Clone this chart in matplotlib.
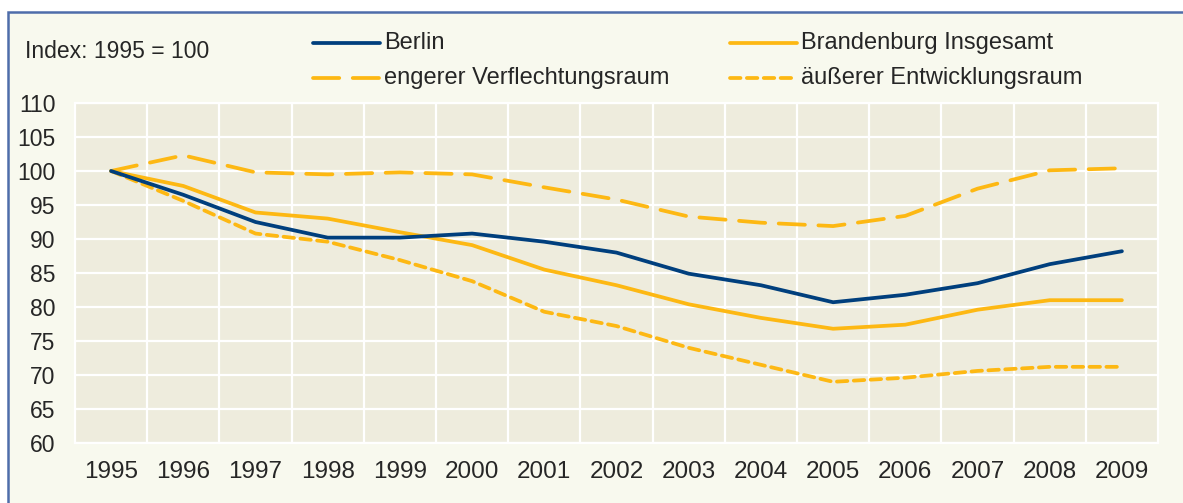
import matplotlib
matplotlib.use("Agg")
import matplotlib.pyplot as plt
from matplotlib.lines import Line2D
from matplotlib.patches import Rectangle

plt.rcParams['font.family'] = ['Liberation Sans', 'DejaVu Sans']

years = ['1995', '1996', '1997', '1998', '1999', '2000', '2001', '2002',
         '2003', '2004', '2005', '2006', '2007', '2008', '2009']
berlin = [100, 96.5, 92.5, 90.2, 90.2, 90.8, 89.6, 88.0, 84.9, 83.2, 80.7, 81.8, 83.5, 86.3, 88.2]
brandenburg = [100, 97.8, 93.9, 93.0, 91.0, 89.1, 85.5, 83.2, 80.4, 78.4, 76.8, 77.4, 79.6, 81.0, 81.0]
engerer = [100, 102.3, 99.8, 99.5, 99.8, 99.5, 97.6, 95.8, 93.3, 92.4, 91.9, 93.4, 97.4, 100.1, 100.4]
aeusserer = [100, 95.6, 90.8, 89.6, 86.9, 83.8, 79.3, 77.2, 74.0, 71.5, 69.0, 69.6, 70.6, 71.2, 71.2]
series_names = ['Berlin', 'Brandenburg Insgesamt', 'engerer Verflechtungsraum', 'äußerer Entwicklungsraum']
yticks = [60, 65, 70, 75, 80, 85, 90, 95, 100, 105, 110]

BLUE = '#003F7D'
ORANGE = '#FDB813'
TEXT = '#262626'
styles = {
    'Berlin': dict(color=BLUE, ls='-'),
    'Brandenburg Insgesamt': dict(color=ORANGE, ls='-'),
    'engerer Verflechtungsraum': dict(color=ORANGE, ls=(0, (7, 3.6))),
    'äußerer Entwicklungsraum': dict(color=ORANGE, ls=(0, (2.8, 1.7))),
}
data = {'Berlin': berlin, 'Brandenburg Insgesamt': brandenburg,
        'engerer Verflechtungsraum': engerer, 'äußerer Entwicklungsraum': aeusserer}

W, H = 1183, 503
fig = plt.figure(figsize=(W / 100, H / 100), dpi=100)
fig.patch.set_facecolor('white')
# outer frame
frame = Rectangle((8 / W, -0.1), 1.2, (H - 12) / H + 0.1, transform=fig.transFigure,
                  facecolor='#F8F9EE', edgecolor='#4E6DAA', lw=1.8, zorder=-5)
fig.add_artist(frame)

L, R, T, B = 75, 1158, 103, 443
ax = fig.add_axes([L / W, (H - B) / H, (R - L) / W, (B - T) / H])
ax.set_zorder(1)
ax.set_facecolor('#EEECDD')
x = list(range(len(years)))
order = ['engerer Verflechtungsraum', 'äußerer Entwicklungsraum', 'Brandenburg Insgesamt', 'Berlin']
for name in order:
    st = styles[name]
    ax.plot(x, data[name], color=st['color'], linestyle=st['ls'], lw=2.7,
            solid_capstyle='round', dash_capstyle='round', zorder=3)

ax.set_xlim(-0.5, len(years) - 0.5)
ax.set_ylim(60, 110)
ax.set_yticks(yticks)
ax.set_yticklabels([str(v) for v in yticks])
ax.set_xticks(x)
ax.set_xticklabels(years)
ax.set_xticks([i + 0.5 for i in range(len(years) - 1)], minor=True)
ax.tick_params(axis='both', which='both', length=0, labelsize=16.5, colors=TEXT)
ax.tick_params(axis='x', labelsize=17.5, pad=13)
ax.tick_params(axis='y', pad=14)
ax.grid(True, which='major', axis='y', color='white', lw=1.6)
ax.grid(True, which='minor', axis='x', color='white', lw=1.6)
ax.set_axisbelow(True)
for s in ax.spines.values():
    s.set_color('white')
    s.set_linewidth(1.6)

# title
fig.text(25 / W, 1 - 52 / H, 'Index: 1995 = 100', fontsize=16.5, color=TEXT, va='center', ha='left')

# legend (manual)
pos = {'Berlin': (313, 43), 'Brandenburg Insgesamt': (730, 43),
       'engerer Verflechtungsraum': (313, 78), 'äußerer Entwicklungsraum': (730, 78)}
for name in series_names:
    px, py = pos[name]
    st = styles[name]
    fig.add_artist(Line2D([px / W, (px + 67) / W], [1 - py / H, 1 - py / H], transform=fig.transFigure,
                          color=st['color'], linestyle=st['ls'], lw=2.7,
                          solid_capstyle='round', dash_capstyle='round'))
    fig.text((px + 71) / W, 1 - py / H, name, fontsize=17, color=TEXT, va='center', ha='left')

fig.savefig('out.png', dpi=100, facecolor=fig.get_facecolor())
